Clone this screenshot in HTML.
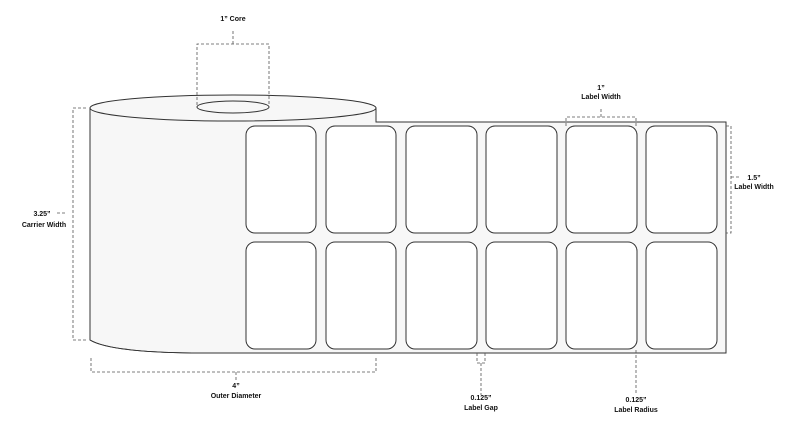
<!DOCTYPE html>
<html><head><style>body{margin:0;background:#fff}svg{display:block}text{font-family:"Liberation Sans",sans-serif;font-weight:bold;font-size:7px;fill:#111;text-anchor:middle}</style></head><body>
<svg width="812" height="429" viewBox="0 0 812 429">
<g fill="#f7f7f7" stroke="#333" stroke-width="1">
<path d="M90,108 L90,340 Q110,352 192,353 L726,353 L726,122 L376,122 L376,108 Z"/>
<path d="M90,108 L90,340 Q110,352 192,353" fill="none"/>
<ellipse cx="233" cy="108" rx="143" ry="13"/>
<ellipse cx="233" cy="107" rx="36" ry="6"/>
</g>
<g fill="#fff" stroke="#333" stroke-width="1">
<rect x="246" y="126" width="70" height="107" rx="9"/><rect x="326" y="126" width="70" height="107" rx="9"/><rect x="406" y="126" width="71" height="107" rx="9"/><rect x="486" y="126" width="71" height="107" rx="9"/><rect x="566" y="126" width="71" height="107" rx="9"/><rect x="646" y="126" width="71" height="107" rx="9"/>
<rect x="246" y="242" width="70" height="107" rx="9"/><rect x="326" y="242" width="70" height="107" rx="9"/><rect x="406" y="242" width="71" height="107" rx="9"/><rect x="486" y="242" width="71" height="107" rx="9"/><rect x="566" y="242" width="71" height="107" rx="9"/><rect x="646" y="242" width="71" height="107" rx="9"/>
</g>
<g fill="none" stroke="#555" stroke-width="0.8" stroke-dasharray="3,2">
<path d="M197,105 V44 H269 V105 M233,44 V30"/>
<path d="M86,108 H73 V340 H86 M65,213 H55"/>
<path d="M91,358 V372 H376 V358 M236,372 V382"/>
<path d="M477,353 V363 H485 V353 M481,363 V395"/>
<path d="M636,350 V395"/>
<path d="M566,126 V117 H636 V126 M601,117 V107"/>
<path d="M726,126 H731 V233 H726 M731,177 H740"/>
</g>
<text x="233" y="21">1” Core</text>
<text x="42" y="216">3.25”</text><text x="44" y="227">Carrier Width</text>
<text x="236" y="388">4”</text><text x="236" y="398">Outer Diameter</text>
<text x="481" y="400">0.125”</text><text x="481" y="410">Label Gap</text>
<text x="636" y="402">0.125”</text><text x="636" y="412">Label Radius</text>
<text x="601" y="90">1”</text><text x="601" y="99">Label Width</text>
<text x="754" y="180">1.5”</text><text x="754" y="189">Label Width</text>
</svg></body></html>
